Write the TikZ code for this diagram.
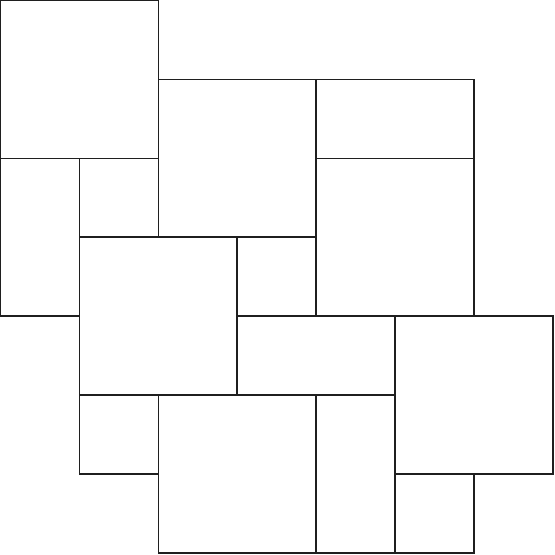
\documentclass[tikz,border=0pt]{standalone}
\begin{document}
\begin{tikzpicture}[x=78.9pt,y=-78.9pt,tile/.style={draw=black!88,line width=1.7pt,fill=white}]
\useasboundingbox (0pt,0pt) rectangle (555pt,-555pt);
\begin{scope}[shift={(0.6pt,-0.6pt)}]
\draw[tile] (0,0) rectangle (2,2);
\draw[tile] (2,1) rectangle (4,3);
\draw[tile] (4,1) rectangle (6,2);
\draw[tile] (4,2) rectangle (6,4);
\draw[tile] (0,2) rectangle (1,4);
\draw[tile] (1,2) rectangle (2,3);
\draw[tile] (1,3) rectangle (3,5);
\draw[tile] (3,3) rectangle (4,4);
\draw[tile] (3,4) rectangle (5,5);
\draw[tile] (5,4) rectangle (7,6);
\draw[tile] (1,5) rectangle (2,6);
\draw[tile] (2,5) rectangle (4,7);
\draw[tile] (4,5) rectangle (5,7);
\draw[tile] (5,6) rectangle (6,7);
\end{scope}
\end{tikzpicture}
\end{document}
